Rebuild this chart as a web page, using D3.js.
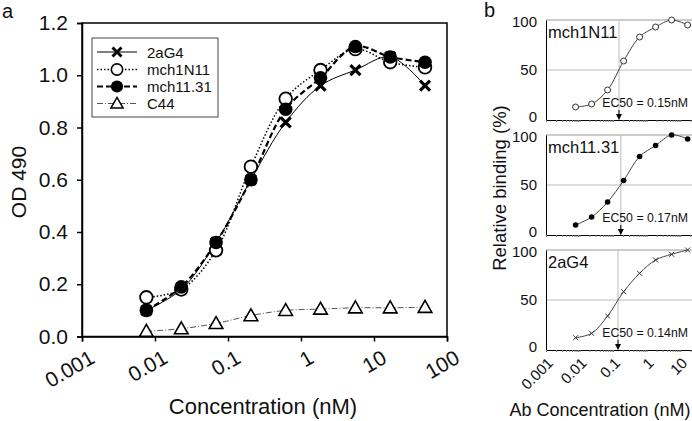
<!DOCTYPE html>
<html><head><meta charset="utf-8">
<script src="https://cdn.jsdelivr.net/npm/d3@7"></script>
<style>body{margin:0;background:#fff;} text{font-family:"Liberation Sans",Arial,sans-serif;}</style>
</head><body>
<svg id="c" width="692" height="421"></svg>
<script>
// Panel a data
const concA = [0.00762, 0.0229, 0.0686, 0.206, 0.617, 1.85, 5.56, 16.67, 50];
const od2aG4   = [0.10, 0.18, 0.36, 0.60, 0.82, 0.96, 1.02, 1.07, 0.96];
const odMch1N11 = [0.15, 0.18, 0.33, 0.65, 0.91, 1.02, 1.10, 1.05, 1.03];
const odMch1131 = [0.10, 0.19, 0.36, 0.60, 0.87, 0.99, 1.11, 1.07, 1.05];
const odC44    = [0.02, 0.03, 0.05, 0.08, 0.10, 0.105, 0.11, 0.11, 0.112];
const yTicksA = [0, 0.2, 0.4, 0.6, 0.8, 1.0, 1.2];
const xTicksA = [0.001, 0.01, 0.1, 1, 10, 100];
const seriesNamesA = ["2aG4", "mch1N11", "mch11.31", "C44"];

// Panel b data
const concB = [0.00762, 0.0229, 0.0686, 0.206, 0.617, 1.85, 5.56, 16.67];
const relMch1N11 = [13, 16, 30, 59, 83, 93, 100, 95];
const relMch1131 = [10, 18, 33, 54.5, 78.5, 89.5, 100, 96];
const rel2aG4   = [12.3, 16.7, 34, 58.3, 76.7, 90, 95.7, 100];
const ec50 = [0.15, 0.17, 0.14];
const panelNamesB = ["mch1N11", "mch11.31", "2aG4"];
const yTicksB = [0, 50, 100];
const xTicksB = [0.001, 0.01, 0.1, 1, 10];

const svg = d3.select("#c");

// ===== Panel a =====
const xA = d3.scaleLog().domain([0.001, 100]).range([82, 447]);
const yA = d3.scaleLinear().domain([0, 1.2]).range([336.5, 23]);
const gA = svg.append("g");

gA.append("rect").attr("x", 82).attr("y", 23).attr("width", 365).attr("height", 313.5)
  .attr("fill", "none").attr("stroke", "#000").attr("stroke-width", 1.5);

const yAxA = gA.append("g").attr("transform", "translate(82,0)")
  .call(d3.axisLeft(yA).tickValues(yTicksA).tickFormat(d3.format(".1f")).tickSize(5).tickPadding(9));
yAxA.select(".domain").attr("stroke-width", 1.5);
yAxA.selectAll("text").style("font-size", "21px").attr("fill", "#111");
const xAxA = gA.append("g").attr("transform", "translate(0,336.5)")
  .call(d3.axisBottom(xA).tickValues(xTicksA).tickFormat("").tickSize(5));
xAxA.select(".domain").attr("stroke-width", 1.5);
gA.selectAll(".tick line").attr("stroke-width", 1.5);
gA.selectAll(".xlab").data(xTicksA).enter().append("text")
  .attr("transform", d => `translate(${xA(d) + 14},362) rotate(-30)`)
  .attr("text-anchor", "end").style("font-size", "21px").attr("fill", "#111")
  .text(d => String(d));

gA.append("text").attr("transform", "translate(26,182) rotate(-90)").attr("text-anchor", "middle")
  .style("font-size", "21px").attr("fill", "#111").text("OD 490");
gA.append("text").attr("x", 263).attr("y", 414).attr("text-anchor", "middle")
  .style("font-size", "22px").attr("fill", "#111").text("Concentration (nM)");
svg.append("text").attr("x", 2).attr("y", 18).style("font-size", "20px").attr("fill", "#111").text("a");
svg.append("text").attr("x", 484).attr("y", 17).style("font-size", "20px").attr("fill", "#111").text("b");

const lineA = d3.line().x(d => xA(d[0])).y(d => yA(d[1])).curve(d3.curveCatmullRom.alpha(0.5));
const styles = [
  {vals: od2aG4, dash: null, sw: 1, color: "#000", marker: "x"},
  {vals: odMch1N11, dash: "1.5,2", sw: 1.5, color: "#000", marker: "oc"},
  {vals: odMch1131, dash: "6,3", sw: 2.2, color: "#000", marker: "fc"},
  {vals: odC44, dash: "6,2,1,2", sw: 1, color: "#555", marker: "tri"}
];
function drawMarker(g, type, x, y, s) {
  if (type === "x") {
    const r = 5 * s;
    g.append("path").attr("d", `M${x-r},${y-r}L${x+r},${y+r}M${x-r},${y+r}L${x+r},${y-r}`)
      .attr("stroke", "#000").attr("stroke-width", 3.2 * s).attr("fill", "none");
  } else if (type === "oc") {
    g.append("circle").attr("cx", x).attr("cy", y).attr("r", 6.3 * s).attr("fill", "#fff").attr("stroke", "#000").attr("stroke-width", 1.8 * s);
  } else if (type === "fc") {
    g.append("circle").attr("cx", x).attr("cy", y).attr("r", 6.8 * s).attr("fill", "#000");
  } else if (type === "tri") {
    const r = 6.8 * s;
    g.append("path").attr("d", `M${x},${y-r}L${x+r},${y+r*0.75}L${x-r},${y+r*0.75}Z`)
      .attr("fill", "#fff").attr("stroke", "#000").attr("stroke-width", 1.6 * s);
  }
}
styles.forEach(s => {
  const pts = concA.map((c, i) => [c, s.vals[i]]);
  gA.append("path").datum(pts).attr("d", lineA).attr("fill", "none")
    .attr("stroke", s.color).attr("stroke-width", s.sw).attr("stroke-dasharray", s.dash);
});
[3, 0, 1, 2].forEach(k => {
  const s = styles[k];
  concA.forEach((c, i) => drawMarker(gA, s.marker, xA(c), yA(s.vals[i]), 1));
});

// legend
const lg = gA.append("g");
lg.append("rect").attr("x", 92).attr("y", 38).attr("width", 126).attr("height", 79)
  .attr("fill", "#fff").attr("stroke", "#444").attr("stroke-width", 1);
const legY = [52, 69.5, 86.5, 103.5];
styles.forEach((s, k) => {
  lg.append("line").attr("x1", 97).attr("x2", 137).attr("y1", legY[k]).attr("y2", legY[k])
    .attr("stroke", s.color).attr("stroke-width", s.sw).attr("stroke-dasharray", s.dash);
  drawMarker(lg, s.marker, 117, legY[k], 0.9);
  lg.append("text").attr("x", 147).attr("y", legY[k] + 5.5).style("font-size", "15px").attr("fill", "#111")
    .text(seriesNamesA[k]);
});

// ===== Panel b =====
const xB = d3.scaleLog().domain([0.001, 22.5]).range([546, 692]);
const tops = [20, 135, 250];
const relData = [relMch1N11, relMch1131, rel2aG4];
const markB = ["oc", "fc", "x"];
tops.forEach((t, k) => {
  const yB = d3.scaleLinear().domain([0, 100]).range([t + 100, t]);
  const g = svg.append("g");
  g.append("line").attr("x1", 546).attr("x2", 692).attr("y1", yB(100)).attr("y2", yB(100)).attr("stroke", "#999").attr("stroke-width", 1);
  g.append("line").attr("x1", 546).attr("x2", 692).attr("y1", yB(50)).attr("y2", yB(50)).attr("stroke", "#bbb").attr("stroke-width", 1);
  g.append("line").attr("x1", xB(ec50[k])).attr("x2", xB(ec50[k])).attr("y1", t).attr("y2", t + 100).attr("stroke", "#bbb").attr("stroke-width", 1);
  const ya = g.append("g").attr("transform", "translate(546,0)")
    .call(d3.axisLeft(yB).tickValues(yTicksB).tickSize(0).tickPadding(9));
  ya.selectAll("text").style("font-size", "15px").attr("fill", "#111")
    .attr("dy", d => d === 0 ? "0.1em" : (d === 100 ? "0.42em" : "0.32em"));
  const minor = [];
  for (let e = -3; e <= 1; e++) for (let m = 1; m <= 9; m++) { const v = m * Math.pow(10, e); if (v <= 22) minor.push(v); }
  const xa = g.append("g").attr("transform", `translate(0,${t + 100})`)
    .call(d3.axisBottom(xB).tickValues(minor).tickFormat("").tickSize(2));
  xa.selectAll(".tick line").attr("stroke", "#777");
  xa.select(".domain").attr("stroke-width", 1);
  const pts = concB.map((c, i) => [c, relData[k][i]]);
  const ln = d3.line().x(d => xB(d[0])).y(d => yB(d[1])).curve(d3.curveCatmullRom.alpha(0.5));
  g.append("path").datum(pts).attr("d", ln).attr("fill", "none").attr("stroke", "#444").attr("stroke-width", 1);
  pts.forEach(p => {
    const x = xB(p[0]), y = yB(p[1]);
    if (markB[k] === "oc") g.append("circle").attr("cx", x).attr("cy", y).attr("r", 3).attr("fill", "#fff").attr("stroke", "#333").attr("stroke-width", 1);
    else if (markB[k] === "fc") g.append("circle").attr("cx", x).attr("cy", y).attr("r", 2.8).attr("fill", "#000");
    else g.append("path").attr("d", `M${x-2.5},${y-2.5}L${x+2.5},${y+2.5}M${x-2.5},${y+2.5}L${x+2.5},${y-2.5}`).attr("stroke", "#333").attr("stroke-width", 1);
  });
  g.append("text").attr("x", 548).attr("y", t + 18).style("font-size", "16.5px").attr("fill", "#111").text(panelNamesB[k]);
  g.append("text").attr("x", 688).attr("y", t + 87).attr("text-anchor", "end").style("font-size", "12.3px").attr("fill", "#111")
    .text("EC50 = " + ec50[k] + "nM");
  const ax = xB(ec50[k]);
  g.append("line").attr("x1", ax).attr("x2", ax).attr("y1", t + 90).attr("y2", t + 97).attr("stroke", "#000").attr("stroke-width", 1);
  g.append("path").attr("d", `M${ax-3},${t + 94}L${ax+3},${t + 94}L${ax},${t + 100}Z`).attr("fill", "#000");
});
svg.selectAll(".xlabB").data(xTicksB).enter().append("text")
  .attr("transform", d => `translate(${xB(d) + 8},364) rotate(-45)`)
  .attr("text-anchor", "end").style("font-size", "15px").attr("fill", "#111").text(d => String(d));
svg.append("text").attr("transform", "translate(506,188) rotate(-90)").attr("text-anchor", "middle")
  .style("font-size", "18.5px").attr("fill", "#111").text("Relative binding (%)");
svg.append("text").attr("x", 600).attr("y", 416).attr("text-anchor", "middle")
  .style("font-size", "18px").attr("fill", "#111").text("Ab Concentration (nM)");
</script>
</body></html>
